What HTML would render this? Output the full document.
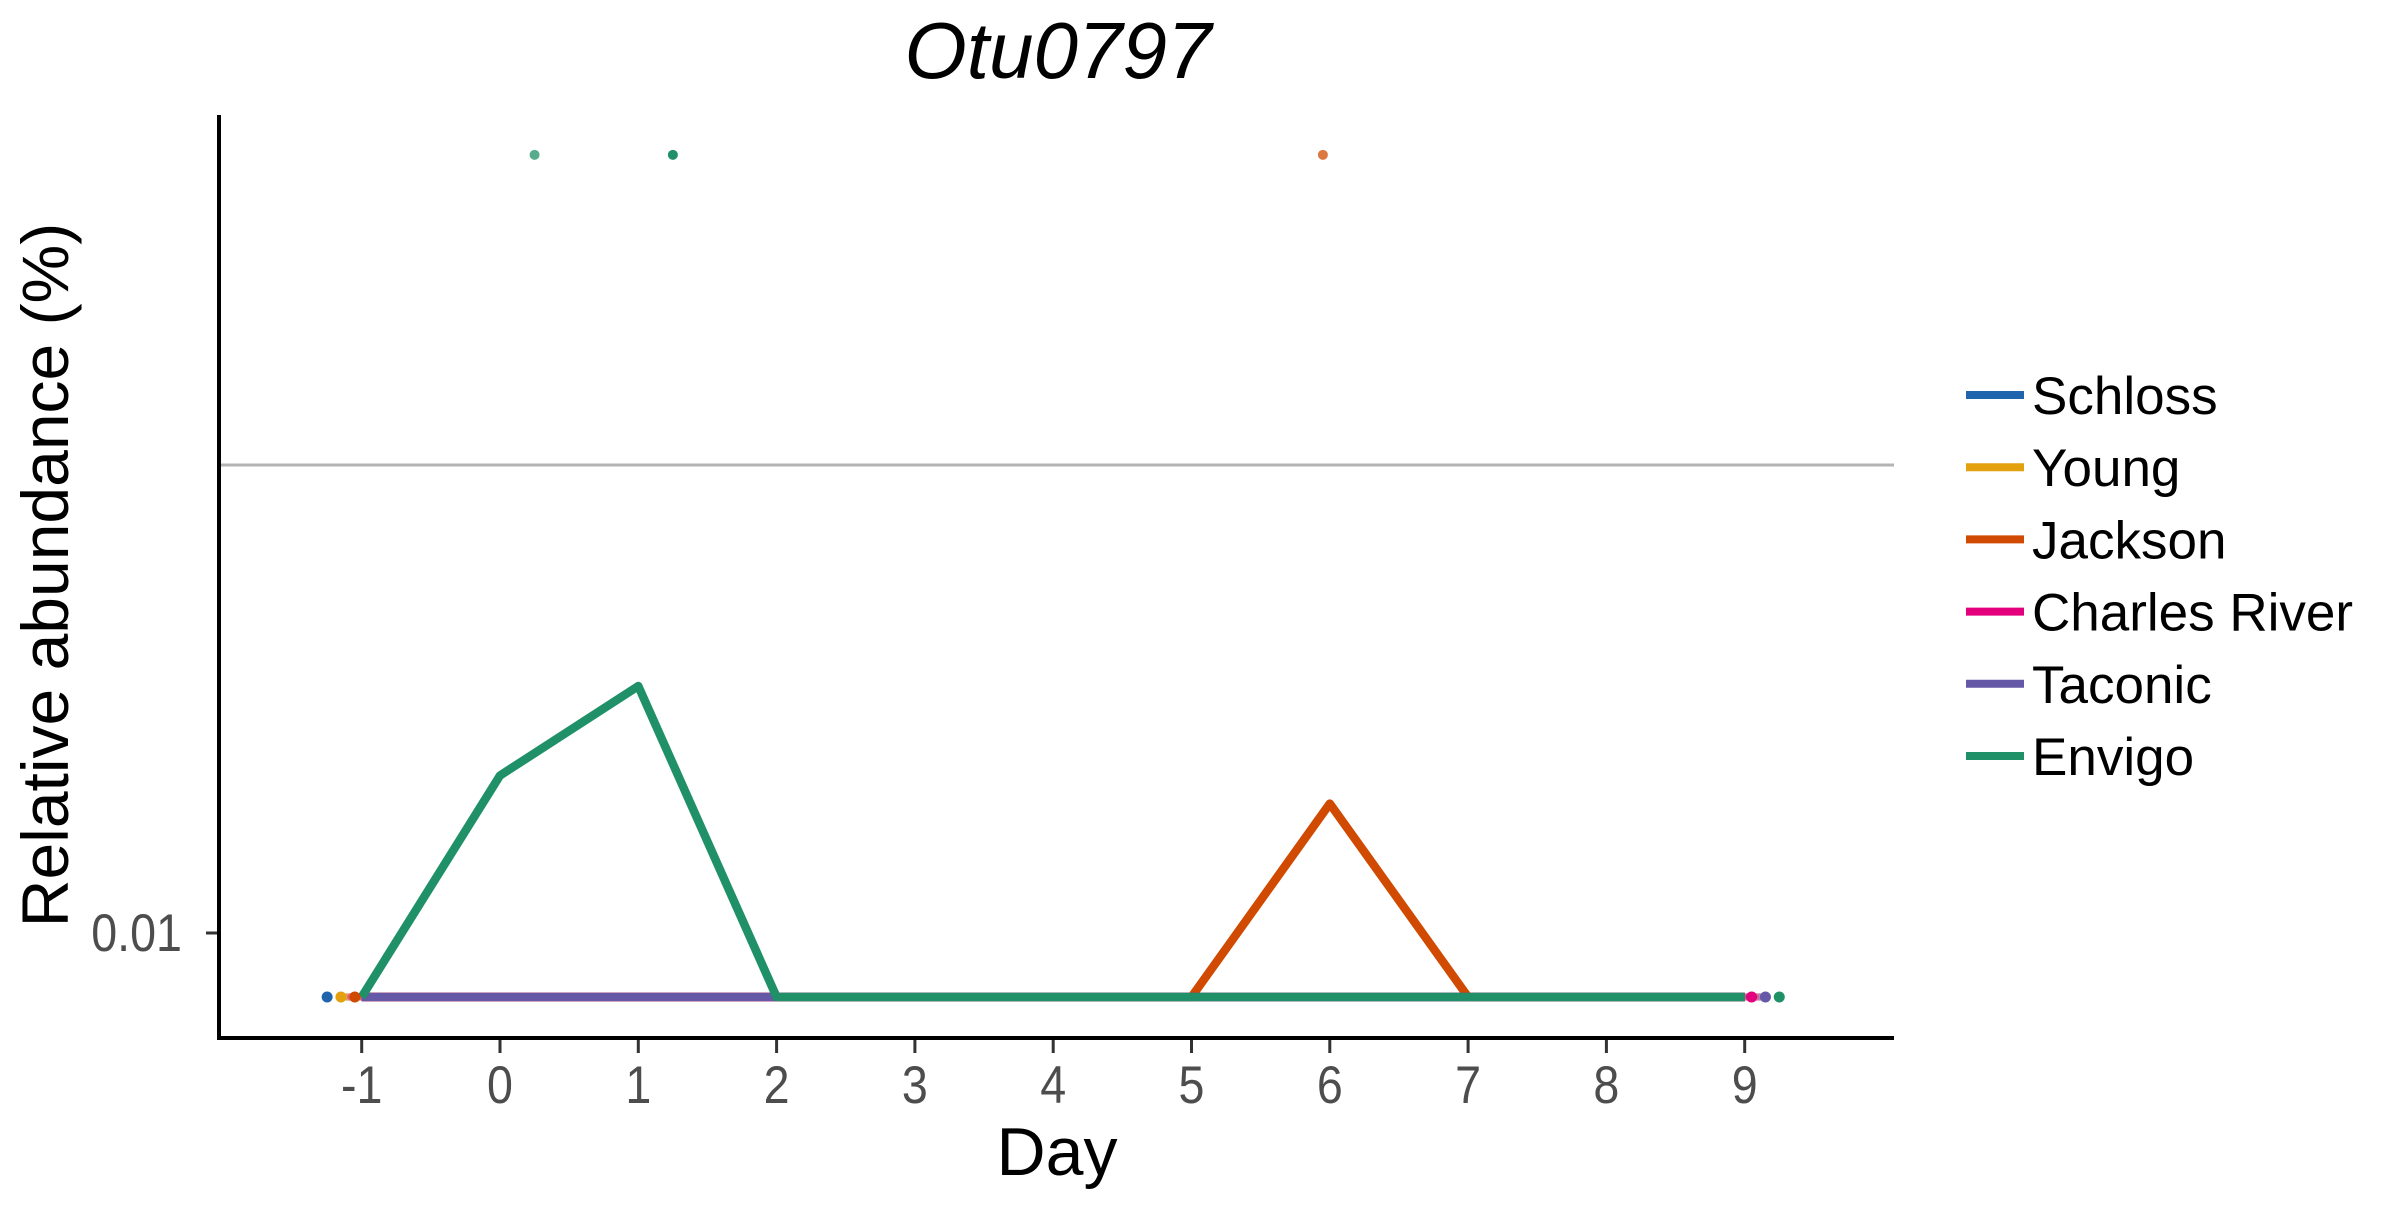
<!DOCTYPE html>
<html><head><meta charset="utf-8"><style>
html,body{margin:0;padding:0;background:#fff;}
svg text{font-family:"Liberation Sans",sans-serif;}
</style></head><body>
<svg id="chart" width="2400" height="1200" viewBox="0 0 2400 1200">
<text x="1058" y="78" font-size="80" font-style="italic" text-anchor="middle">Otu0797</text>
<g id="plot"></g>
<line x1="219" y1="115" x2="219" y2="1040" stroke="#000" stroke-width="4"/>
<line x1="217" y1="1038" x2="1894" y2="1038" stroke="#000" stroke-width="4"/>
<text transform="translate(68,575) rotate(-90)" font-size="66" text-anchor="middle">Relative abundance (%)</text>
<text x="1057" y="1175" font-size="68" text-anchor="middle">Day</text>
<g id="legend"></g>
</svg>
<script>
const days = [-1,0,1,2,3,4,5,6,7,8,9];
const seriesNames = ["Schloss","Young","Jackson","Charles River","Taconic","Envigo"];
const seriesColors = ["#1f64ad","#e3a00f","#d04a02","#e4007c","#6558a6","#1f9068"];
const base = 0.0073;
const schlossVals = [base,base,base,base,base,base,base,base,base,base,base];
const youngVals = [base,base,base,base,base,base,base,base,base,base,base];
const jacksonVals = [base,base,base,base,base,base,base,0.0189,base,base,base];
const charlesVals = [base,base,base,base,base,base,base,base,base,base,base];
const taconicVals = [base,base,base,base,base,base,base,base,base,base,base];
const envigoVals = [base,0.0217,0.0337,base,base,base,base,base,base,base,base];
const xTickLabels = ["-1","0","1","2","3","4","5","6","7","8","9"];
const yTickVals = [0.01];
const yTickLabels = ["0.01"];
const hlineVal = 0.1;
const outlierDays = [0.25,1.25,5.95];
const outlierVals = [0.46,0.46,0.46];
const outlierSeries = [5,5,2];
const endDotDays = [-1.25,-1.15,-1.05,9.05,9.15,9.25];
const endDotSeries = [0,1,2,3,4,5];

const allVals=[schlossVals,youngVals,jacksonVals,charlesVals,taconicVals,envigoVals];
const NS="http://www.w3.org/2000/svg";
function X(d){return 500+d*138.3;}
function Y(v){return 933-(Math.log10(v)+2)*468;}
function mk(tag,attrs,parent){const e=document.createElementNS(NS,tag);for(const k in attrs)e.setAttribute(k,attrs[k]);parent.appendChild(e);return e;}
const plot=document.getElementById('plot');
const hl=mk('line',{x1:219,x2:1894,y1:Y(hlineVal),y2:Y(hlineVal),stroke:'#b3b3b3','stroke-width':3},plot);


days.forEach((d,i)=>{
  const t=mk('line',{x1:X(d),x2:X(d),y1:1040,y2:1053,stroke:'#333','stroke-width':3},plot);
  
  
  const l=mk('text',{transform:'translate('+X(d)+',1103) scale(0.88,1)','font-size':53,fill:'#4d4d4d','text-anchor':'middle'},plot);
  l.textContent=xTickLabels[i];
  
  
});
yTickVals.forEach((v,i)=>{
  const t=mk('line',{x1:206,x2:219,y1:Y(v),y2:Y(v),stroke:'#333','stroke-width':3},plot);
  
  
  const l=mk('text',{transform:'translate(182,'+(Y(v)+18)+') scale(0.88,1)','font-size':53,fill:'#4d4d4d','text-anchor':'end'},plot);
  l.textContent=yTickLabels[i];
  
  
});
allVals.forEach((vals,s)=>{
  days.forEach((d,i)=>{
    if(vals[i]!==base) return;
    for(let k=0;k<3;k++){
      const c=mk('circle',{cx:X(d)+(k-1)*12+(s-2.5)*3,cy:Y(vals[i]),r:4,fill:seriesColors[s],opacity:0.4},plot);
      
      
    }
  });
});
allVals.forEach((vals,s)=>{
  const pts=days.map((d,i)=>X(d)+','+Y(vals[i])).join(' ');
  const p=mk('polyline',{points:pts,fill:'none',stroke:seriesColors[s],'stroke-width':8.5,'stroke-linejoin':'round'},plot);
  
  
});
endDotDays.forEach((d,i)=>{
  const c=mk('circle',{cx:X(d),cy:Y(base),r:5.5,fill:seriesColors[endDotSeries[i]]},plot);
  
  
});
outlierDays.forEach((d,i)=>{
  const c=mk('circle',{cx:X(d),cy:Y(outlierVals[i]),r:5,fill:seriesColors[outlierSeries[i]],opacity:i==1?1:0.75},plot);
  
  
});
const lg=document.getElementById('legend');
seriesNames.forEach((n,i)=>{
  const y=395+i*72.2;
  const g=mk('g',{},lg);
  
  
  mk('line',{x1:1966,x2:2024,y1:y,y2:y,stroke:seriesColors[i],'stroke-width':8},g);
  const t=mk('text',{x:2032,y:y+19,'font-size':53,fill:'#000'},g);
  t.textContent=n;
});
</script>
</body></html>
